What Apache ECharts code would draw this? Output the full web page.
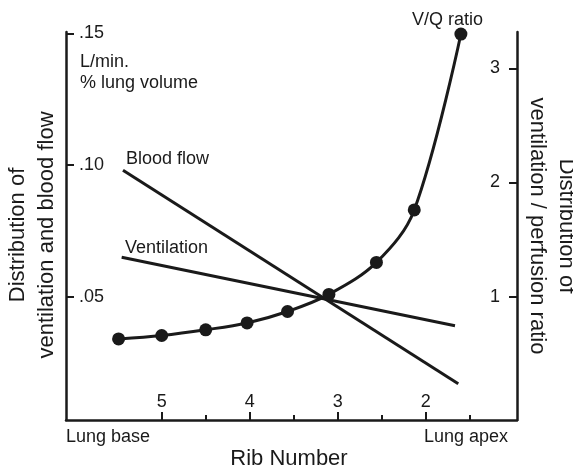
<!DOCTYPE html>
<html>
<head>
<meta charset="utf-8">
<script src="https://cdn.jsdelivr.net/npm/echarts@6/dist/echarts.min.js"></script>
<style>
html,body{margin:0;padding:0;background:#fff;}
#chart{width:573px;height:472px;}
</style>
</head>
<body>
<div id="chart"></div>
<script>
// ---- data ----
var ribTickValues = [5, 4, 3, 2];
var ribMinorTicks = [4.5, 3.5, 2.5, 1.5];
var leftTickValues = [0.05, 0.10, 0.15];
var leftTickLabels = ['.05', '.10', '.15'];
var rightTickValues = [1, 2, 3];

var vqRib   = [5.49, 5.0, 4.5, 4.03, 3.57, 3.1, 2.56, 2.13, 1.6];
var vqRatio = [0.63, 0.66, 0.71, 0.77, 0.87, 1.02, 1.30, 1.76, 3.30];

var bloodRib  = [5.44, 1.63];
var bloodFlow = [0.098, 0.017];

var ventRib  = [5.455, 1.667];
var ventFlow = [0.065, 0.039];

function pairs(xs, ys) { return xs.map(function (x, i) { return [x, ys[i]]; }); }

var INK = '#1a1a1a';
var FONT = '"Liberation Sans", Arial, Helvetica, sans-serif';

var chart = echarts.init(document.getElementById('chart'), null, {renderer: 'canvas'});

function txt(text, x, y, opts) {
  opts = opts || {};
  return {
    type: 'text', x: x, y: y, rotation: opts.rotation || 0,
    style: {
      text: text, fill: INK, font: (opts.size || 18) + 'px ' + FONT,
      textAlign: opts.align || 'left', textVerticalAlign: 'middle',
      lineHeight: opts.lineHeight
    }
  };
}

var option = {
  backgroundColor: '#fff',
  animation: false,
  grid: {left: 66, right: 56, top: 32, bottom: 52, containLabel: false, outerBoundsMode: 'none'},
  xAxis: [{
    type: 'value', inverse: true, min: 0.9625, max: 6.0875, position: 'bottom',
    axisLine: {show: true, onZero: false, lineStyle: {color: INK, width: 2.5}},
    axisTick: {show: true, inside: true, length: 8, customValues: ribTickValues, lineStyle: {color: INK, width: 2}},
    axisLabel: {show: true, inside: true, margin: 9, customValues: ribTickValues, fontSize: 18, color: INK, fontFamily: FONT},
    splitLine: {show: false}
  }, {
    type: 'value', inverse: true, min: 0.9625, max: 6.0875, position: 'bottom', offset: 0,
    axisLine: {show: false, onZero: false},
    axisTick: {show: true, inside: true, length: 5, customValues: ribMinorTicks, lineStyle: {color: INK, width: 2}},
    axisLabel: {show: false},
    splitLine: {show: false}
  }],
  yAxis: [{
    type: 'value', position: 'left', min: 0.0032, max: 0.1505,
    axisLine: {show: true, onZero: false, lineStyle: {color: INK, width: 2.5}},
    axisTick: {show: true, inside: true, length: 8, customValues: leftTickValues, lineStyle: {color: INK, width: 2}},
    axisLabel: {show: true, inside: true, margin: 13, customValues: leftTickValues, fontSize: 18, color: INK, fontFamily: FONT,
      formatter: function (v) {
        for (var i = 0; i < leftTickValues.length; i++) if (Math.abs(v - leftTickValues[i]) < 1e-6) return leftTickLabels[i];
        return '';
      }},
    splitLine: {show: false}
  }, {
    type: 'value', position: 'right', min: -0.08, max: 3.318,
    axisLine: {show: true, onZero: false, lineStyle: {color: INK, width: 2.5}},
    axisTick: {show: true, inside: true, length: 8, customValues: rightTickValues, lineStyle: {color: INK, width: 2}},
    axisLabel: {show: true, inside: true, margin: 17, customValues: rightTickValues, fontSize: 18, color: INK, fontFamily: FONT},
    splitLine: {show: false}
  }],
  series: [{
    name: 'Blood flow', type: 'line', xAxisIndex: 0, yAxisIndex: 0,
    data: pairs(bloodRib, bloodFlow), showSymbol: false, symbol: 'none',
    lineStyle: {color: INK, width: 3}
  }, {
    name: 'Ventilation', type: 'line', xAxisIndex: 0, yAxisIndex: 0,
    data: pairs(ventRib, ventFlow), showSymbol: false, symbol: 'none',
    lineStyle: {color: INK, width: 3}
  }, {
    name: 'V/Q ratio', type: 'line', xAxisIndex: 0, yAxisIndex: 1,
    data: pairs(vqRib, vqRatio), smooth: 0.35, clip: false,
    symbol: 'circle', symbolSize: 13,
    itemStyle: {color: INK}, lineStyle: {color: INK, width: 3}
  }],
  graphic: [
    txt('L/min.', 80, 62),
    txt('% lung volume', 80, 83),
    txt('Blood flow', 126, 159),
    txt('Ventilation', 125, 248),
    txt('V/Q ratio', 412, 20),
    txt('Lung base', 66, 437),
    txt('Lung apex', 508, 437, {align: 'right'}),
    txt('Rib Number', 289, 459, {align: 'center', size: 22}),
    txt('Distribution of\nventilation and blood flow', 32, 235, {align: 'center', size: 22, lineHeight: 29, rotation: Math.PI / 2}),
    txt('Distribution of\nventilation / perfusion ratio', 552, 226, {align: 'center', size: 22, lineHeight: 29, rotation: -Math.PI / 2})
  ]
};
chart.setOption(option);
</script>
</body>
</html>
